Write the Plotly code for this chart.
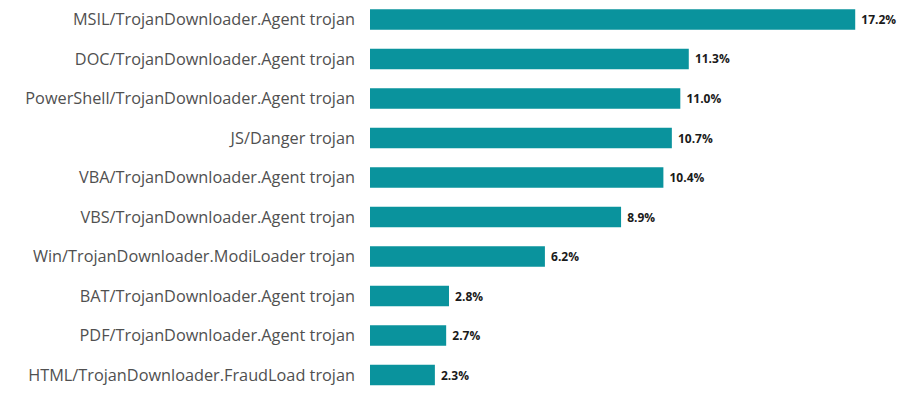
import plotly.graph_objects as go

categories = [
    "MSIL/TrojanDownloader.Agent trojan",
    "DOC/TrojanDownloader.Agent trojan",
    "PowerShell/TrojanDownloader.Agent trojan",
    "JS/Danger trojan",
    "VBA/TrojanDownloader.Agent trojan",
    "VBS/TrojanDownloader.Agent trojan",
    "Win/TrojanDownloader.ModiLoader trojan",
    "BAT/TrojanDownloader.Agent trojan",
    "PDF/TrojanDownloader.Agent trojan",
    "HTML/TrojanDownloader.FraudLoad trojan",
]
values = [17.2, 11.3, 11.0, 10.7, 10.4, 8.9, 6.2, 2.8, 2.7, 2.3]
value_labels = [f" {v:.1f}%" for v in values]

fig = go.Figure(
    go.Bar(
        x=values,
        y=categories,
        orientation="h",
        marker=dict(color="#0A939D", line=dict(width=0)),
        width=0.52,
        text=value_labels,
        textposition="outside",
        textfont=dict(family="Open Sans", size=12, color="#1a1a1a", weight="bold"),
        cliponaxis=False,
    )
)

fig.update_layout(
    width=901,
    height=390,
    margin=dict(l=362, r=3, t=0, b=0, autoexpand=False),
    paper_bgcolor="white",
    plot_bgcolor="white",
    showlegend=False,
    font=dict(family="Open Sans", size=16, color="#505050"),
)
fig.update_xaxes(range=[0, 19], visible=False)
fig.update_yaxes(
    range=[9.58, -0.29],
    showgrid=False,
    zeroline=False,
    showline=False,
    ticks="",
    ticklabelstandoff=14,
    tickfont=dict(family="Open Sans", size=16.3, color="#505050"),
)

fig.write_html("out.html")
